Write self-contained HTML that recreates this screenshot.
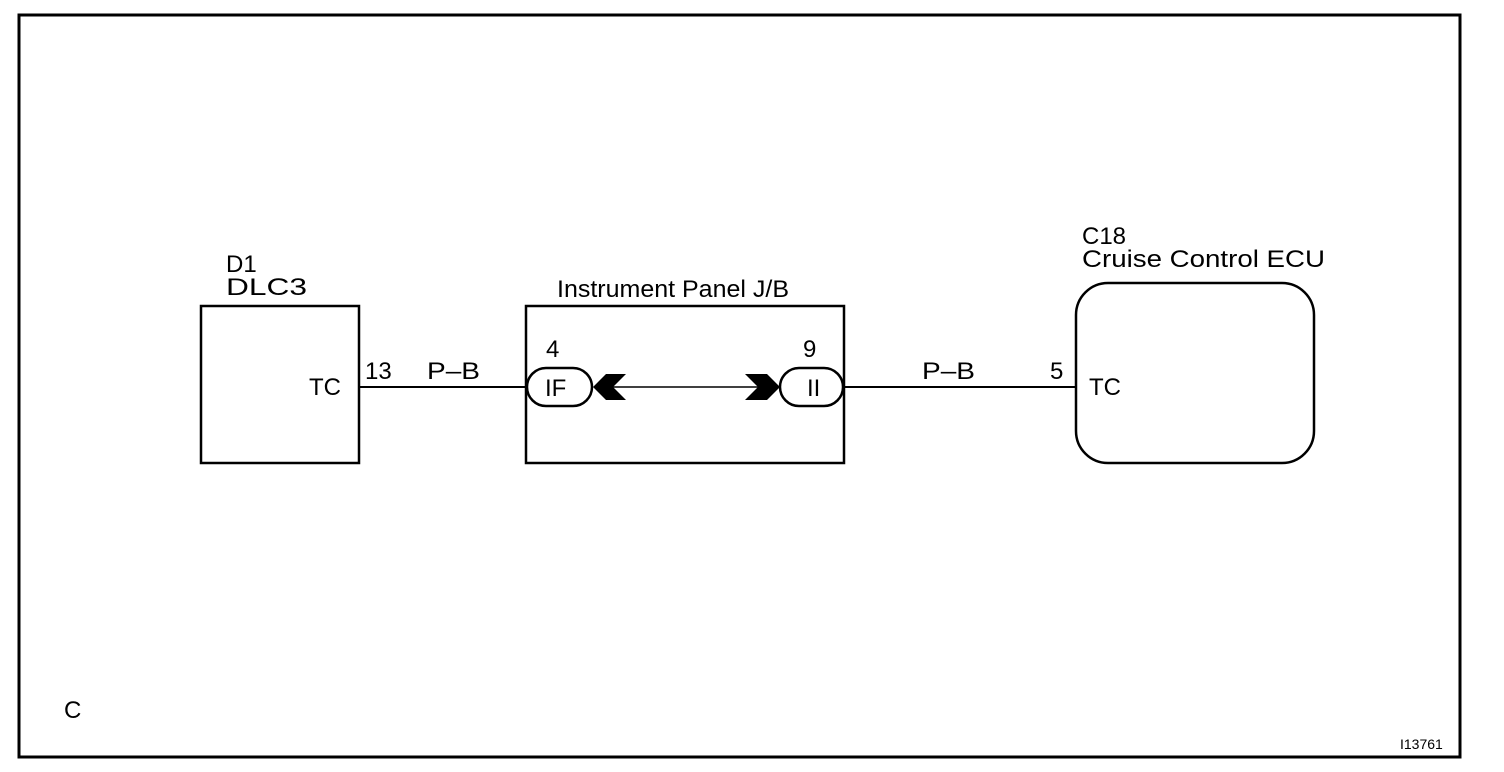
<!DOCTYPE html>
<html><head><meta charset="utf-8"><style>
html,body{margin:0;padding:0;background:#fff;}
svg{display:block;}
text{font-family:"Liberation Sans",Arial,sans-serif;fill:#000;}
</style></head><body>
<svg width="1504" height="772" viewBox="0 0 1504 772" xmlns="http://www.w3.org/2000/svg">
<rect x="19" y="15" width="1441" height="742" fill="none" stroke="#000" stroke-width="3"/>
<!-- DLC3 -->
<rect x="201" y="306" width="158" height="157" fill="none" stroke="#000" stroke-width="2.5"/>
<text x="226" y="272" font-size="24">D1</text>
<text x="226" y="295" font-size="24" textLength="81" lengthAdjust="spacingAndGlyphs">DLC3</text>
<text x="309" y="395" font-size="24">TC</text>
<text x="365" y="379" font-size="24">13</text>
<text x="427" y="379" font-size="24" textLength="53" lengthAdjust="spacingAndGlyphs">P–B</text>
<line x1="359" y1="387" x2="527" y2="387" stroke="#000" stroke-width="2"/>
<!-- J/B -->
<rect x="526" y="306" width="318" height="157" fill="none" stroke="#000" stroke-width="2.5"/>
<text x="557" y="297" font-size="24" textLength="232" lengthAdjust="spacingAndGlyphs">Instrument Panel J/B</text>
<text x="546" y="357" font-size="24">4</text>
<text x="803" y="357" font-size="24">9</text>
<rect x="527" y="368" width="65" height="38" rx="19" fill="#fff" stroke="#000" stroke-width="2.5"/>
<text x="545" y="396" font-size="24">IF</text>
<rect x="780" y="368" width="63" height="38" rx="19" fill="#fff" stroke="#000" stroke-width="2.5"/>
<text x="807" y="396" font-size="24">II</text>
<line x1="610" y1="387" x2="762" y2="387" stroke="#000" stroke-width="1.5"/>
<polygon points="593,387 606,374 626,374 613,387 626,400 606,400" fill="#000"/>
<polygon points="780,387 767,374 745,374 758,387 745,400 767,400" fill="#000"/>
<!-- right wire -->
<line x1="843" y1="387" x2="1077" y2="387" stroke="#000" stroke-width="2"/>
<text x="922" y="379" font-size="24" textLength="53" lengthAdjust="spacingAndGlyphs">P–B</text>
<text x="1050" y="379" font-size="24">5</text>
<!-- ECU -->
<rect x="1076" y="283" width="238" height="180" rx="32" fill="none" stroke="#000" stroke-width="2.5"/>
<text x="1082" y="244" font-size="24">C18</text>
<text x="1082" y="267" font-size="24" textLength="243" lengthAdjust="spacingAndGlyphs">Cruise Control ECU</text>
<text x="1089" y="395" font-size="24">TC</text>
<text x="64" y="718" font-size="24">C</text>
<text x="1400" y="749" font-size="14">I13761</text>
</svg>
</body></html>
